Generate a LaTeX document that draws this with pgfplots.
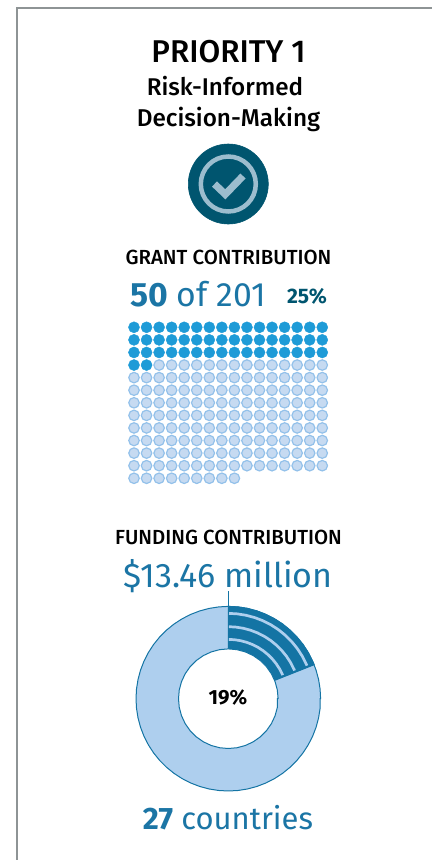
\documentclass[border=0pt]{standalone}
\usepackage{pgfplots}
\pgfplotsset{compat=1.18}
\usepgfplotslibrary{polar}
\usepackage{fontspec}
\setmainfont{Fira Sans}
\newfontfamily\med{Fira Sans Medium}
\definecolor{inkblue}{HTML}{1B75A5}
\definecolor{wedge}{HTML}{1474A4}
\definecolor{ringfill}{HTML}{AECFEE}
\definecolor{deep}{HTML}{00556F}
\definecolor{iconpale}{HTML}{9CBDCE}
\definecolor{dotfull}{HTML}{1E9BD7}
\definecolor{dotpale}{HTML}{C6DAF1}
\definecolor{dotedge}{HTML}{93C1EA}
\definecolor{frame}{HTML}{8E9495}
\pgfplotsset{sheet/.style={scale only axis,width=432pt,height=860pt,axis lines=none,ticks=none,clip=true,clip marker paths=true,anchor=south west,at={(0pt,0pt)}}}
\begin{document}
\begin{tikzpicture}
\useasboundingbox (0pt,0pt) rectangle (432pt,860pt);
% Page coordinates: origin top left, y running downwards
\begin{axis}[sheet,xmin=0,xmax=432,ymin=0,ymax=860,y dir=reverse]
\addplot[frame,line width=1.2pt] coordinates {(17,860) (17,8) (432,8)};
% Icon
\addplot[only marks,mark=*,mark size=40pt,mark options={fill=deep,draw=deep,line width=0.6pt}] coordinates {(228.3,184)};
\addplot[only marks,mark=o,mark size=27.5pt,mark options={draw=iconpale,line width=4.5pt}] coordinates {(228.3,184)};
\addplot[iconpale,line width=7.2pt,miter limit=4] coordinates {(214.5,184) (225.3,194.3) (243,176)};
% Grants: 50 funded of 201, sixteen to a row
\addplot[only marks,mark=*,mark size=5.25pt,mark options={fill=dotpale,draw=dotedge,line width=1.2pt}]
 table[row sep=\\,x expr=134+12.55*\thisrow{c},y expr=327.3+12.58*\thisrow{r}] {
c r\\
2 3\\3 3\\4 3\\5 3\\6 3\\7 3\\8 3\\9 3\\10 3\\11 3\\12 3\\13 3\\14 3\\15 3\\
0 4\\1 4\\2 4\\3 4\\4 4\\5 4\\6 4\\7 4\\8 4\\9 4\\10 4\\11 4\\12 4\\13 4\\14 4\\15 4\\
0 5\\1 5\\2 5\\3 5\\4 5\\5 5\\6 5\\7 5\\8 5\\9 5\\10 5\\11 5\\12 5\\13 5\\14 5\\15 5\\
0 6\\1 6\\2 6\\3 6\\4 6\\5 6\\6 6\\7 6\\8 6\\9 6\\10 6\\11 6\\12 6\\13 6\\14 6\\15 6\\
0 7\\1 7\\2 7\\3 7\\4 7\\5 7\\6 7\\7 7\\8 7\\9 7\\10 7\\11 7\\12 7\\13 7\\14 7\\15 7\\
0 8\\1 8\\2 8\\3 8\\4 8\\5 8\\6 8\\7 8\\8 8\\9 8\\10 8\\11 8\\12 8\\13 8\\14 8\\15 8\\
0 9\\1 9\\2 9\\3 9\\4 9\\5 9\\6 9\\7 9\\8 9\\9 9\\10 9\\11 9\\12 9\\13 9\\14 9\\15 9\\
0 10\\1 10\\2 10\\3 10\\4 10\\5 10\\6 10\\7 10\\8 10\\9 10\\10 10\\11 10\\12 10\\13 10\\14 10\\15 10\\
0 11\\1 11\\2 11\\3 11\\4 11\\5 11\\6 11\\7 11\\8 11\\9 11\\10 11\\11 11\\12 11\\13 11\\14 11\\15 11\\
0 12\\1 12\\2 12\\3 12\\4 12\\5 12\\6 12\\7 12\\8 12\\
};
\addplot[only marks,mark=*,mark size=5.55pt,mark options={fill=dotfull,draw=dotfull,line width=0.4pt}]
 table[row sep=\\,x expr=134+12.55*\thisrow{c},y expr=327.3+12.58*\thisrow{r}] {
c r\\
0 0\\1 0\\2 0\\3 0\\4 0\\5 0\\6 0\\7 0\\8 0\\9 0\\10 0\\11 0\\12 0\\13 0\\14 0\\15 0\\
0 1\\1 1\\2 1\\3 1\\4 1\\5 1\\6 1\\7 1\\8 1\\9 1\\10 1\\11 1\\12 1\\13 1\\14 1\\15 1\\
0 2\\1 2\\2 2\\3 2\\4 2\\5 2\\6 2\\7 2\\8 2\\9 2\\10 2\\11 2\\12 2\\13 2\\14 2\\15 2\\
0 3\\1 3\\
};
% Leader above the donut
\addplot[wedge,line width=1pt] coordinates {(228.3,591) (228.3,607)};
% Headings
\node[anchor=base,font=\fontsize{31.5}{31.5}\selectfont\med,text=black] at (axis cs:228.5,62) {PRIORITY 1};
\node[anchor=base,font=\fontsize{24.2}{24.2}\selectfont\med,text=black] at (axis cs:225,95) {Risk-Informed};
\node[anchor=base,font=\fontsize{24.3}{24.3}\selectfont\med,text=black] at (axis cs:228.5,126) {Decision-Making};
\node[anchor=base,font=\fontsize{20.4}{20.4}\selectfont\med,text=black] at (axis cs:228.5,264) {GRANT CONTRIBUTION};
\node[anchor=base west,inner sep=0pt,font=\fontsize{33.7}{33.7}\selectfont,text=inkblue] at (axis cs:130,306) {\textbf{50} of 201};
\node[anchor=base,font=\fontsize{21}{21}\selectfont\bfseries,text=deep] at (axis cs:307,303.5) {25\%};
\node[anchor=base,font=\fontsize{20.4}{20.4}\selectfont\med,text=black] at (axis cs:228.5,544) {FUNDING CONTRIBUTION};
\node[anchor=base,font=\fontsize{34}{34}\selectfont,text=inkblue] at (axis cs:228,587) {\$13.46 million};
\node[anchor=base,font=\fontsize{31}{31}\selectfont,text=inkblue] at (axis cs:228,829) {\textbf{27} countries};
\end{axis}
% Donut, centred on the origin, drawn in polar data
\begin{axis}[sheet,xmin=-228.3,xmax=203.7,ymin=-161.3,ymax=698.7]
\addplot[data cs=polar,fill=ringfill,draw=wedge,line width=1pt] coordinates {
(0,92.3)(6,92.3)(12,92.3)(18,92.3)(24,92.3)(30,92.3)(36,92.3)(42,92.3)(48,92.3)(54,92.3)(60,92.3)(66,92.3)(72,92.3)(78,92.3)(84,92.3)
(90,92.3)(96,92.3)(102,92.3)(108,92.3)(114,92.3)(120,92.3)(126,92.3)(132,92.3)(138,92.3)(144,92.3)(150,92.3)(156,92.3)(162,92.3)(168,92.3)(174,92.3)
(180,92.3)(186,92.3)(192,92.3)(198,92.3)(204,92.3)(210,92.3)(216,92.3)(222,92.3)(228,92.3)(234,92.3)(240,92.3)(246,92.3)(252,92.3)(258,92.3)(264,92.3)
(270,92.3)(276,92.3)(282,92.3)(288,92.3)(294,92.3)(300,92.3)(306,92.3)(312,92.3)(318,92.3)(324,92.3)(330,92.3)(336,92.3)(342,92.3)(348,92.3)(354,92.3)
} \closedcycle;
% The funded share: 19% of the turn, 68.4 degrees clockwise from the top
\addplot[data cs=polar,fill=wedge,draw=wedge,line width=1pt] coordinates {
(90,92.3)(84,92.3)(78,92.3)(72,92.3)(66,92.3)(60,92.3)(54,92.3)(48,92.3)(42,92.3)(36,92.3)(30,92.3)(24,92.3)(21.6,92.3)
(21.6,49.8)(24,49.8)(30,49.8)(36,49.8)(42,49.8)(48,49.8)(54,49.8)(60,49.8)(66,49.8)(72,49.8)(78,49.8)(84,49.8)(90,49.8)(90,92.3)
};
\addplot[data cs=polar,ringfill,line width=2.7pt] coordinates {(89.5,85.3)(84,85.3)(78,85.3)(72,85.3)(66,85.3)(60,85.3)(54,85.3)(48,85.3)(42,85.3)(36,85.3)(30,85.3)(24,85.3)(22.8,85.3)};
\addplot[data cs=polar,ringfill,line width=2.7pt] coordinates {(89.5,72)(84,72)(78,72)(72,72)(66,72)(60,72)(54,72)(48,72)(42,72)(36,72)(30,72)(24,72)(23,72)};
\addplot[data cs=polar,ringfill,line width=2.7pt] coordinates {(89.5,59.3)(84,59.3)(78,59.3)(72,59.3)(66,59.3)(60,59.3)(54,59.3)(48,59.3)(42,59.3)(36,59.3)(30,59.3)(24,59.3)(23.4,59.3)};
\addplot[data cs=polar,fill=white,draw=wedge,line width=1pt] coordinates {
(0,49.8)(10,49.8)(20,49.8)(30,49.8)(40,49.8)(50,49.8)(60,49.8)(70,49.8)(80,49.8)(90,49.8)(100,49.8)(110,49.8)(120,49.8)(130,49.8)(140,49.8)(150,49.8)(160,49.8)(170,49.8)
(180,49.8)(190,49.8)(200,49.8)(210,49.8)(220,49.8)(230,49.8)(240,49.8)(250,49.8)(260,49.8)(270,49.8)(280,49.8)(290,49.8)(300,49.8)(310,49.8)(320,49.8)(330,49.8)(340,49.8)(350,49.8)
} \closedcycle;
\node[anchor=base,font=\fontsize{20.5}{20.5}\selectfont\bfseries,text=black] at (axis cs:-0.3,-6.3) {19\%};
\end{axis}
\end{tikzpicture}
\end{document}
